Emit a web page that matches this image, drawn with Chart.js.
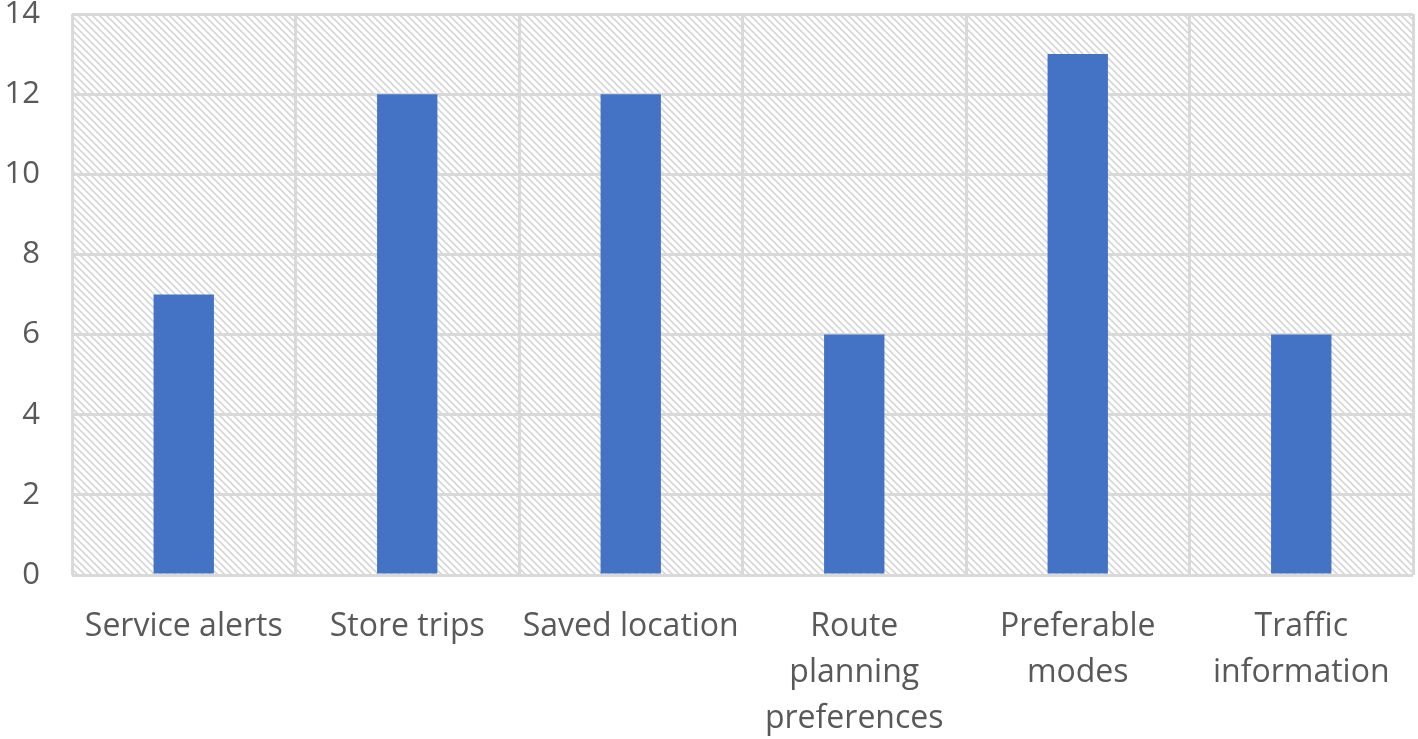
<!DOCTYPE html>
<html>
<head>
<meta charset="utf-8">
<script src="https://cdn.jsdelivr.net/npm/chart.js@4"></script>
<style>
  html, body { margin: 0; padding: 0; background: #fff; }
  #wrap { width: 1418px; height: 739px; }
</style>
</head>
<body>
<div id="wrap"><canvas id="myChart" width="1418" height="739"></canvas></div>
<script>
const categories = [
  "Service alerts",
  "Store trips",
  "Saved location",
  ["Route", "planning", "preferences"],
  ["Preferable", "modes"],
  ["Traffic", "information"]
];
const values = [7, 12, 12, 6, 13, 6];
const yMin = 0;
const yMax = 14;
const yStep = 2;

const ctx = document.getElementById("myChart");

// diagonal hatch used behind the plot area
function makeHatch() {
  const c = document.createElement("canvas");
  c.width = 7;
  c.height = 7;
  const g = c.getContext("2d");
  g.strokeStyle = "#d6d6d6";
  g.lineWidth = 1.6;
  g.beginPath();
  g.moveTo(-1, -1);
  g.lineTo(8, 8);
  g.moveTo(-8, -1);
  g.lineTo(1, 8);
  g.moveTo(6, -1);
  g.lineTo(15, 8);
  g.stroke();
  return g.createPattern(c, "repeat");
}

const hatchBg = {
  id: "hatchBg",
  beforeDraw(chart) {
    const { ctx, chartArea: a } = chart;
    ctx.save();
    ctx.fillStyle = makeHatch();
    ctx.fillRect(a.left, a.top, a.right - a.left, a.bottom - a.top);
    ctx.restore();
  }
};

const chart = new Chart(ctx, {
  type: "bar",
  data: {
    labels: categories,
    datasets: [
      {
        data: values,
        backgroundColor: "#4472c4",
        borderWidth: 0,
        categoryPercentage: 1,
        barPercentage: 0.27
      }
    ]
  },
  options: {
    responsive: false,
    animation: false,
    layout: { padding: { top: 14, right: 5, left: 0, bottom: 0 } },
    plugins: {
      legend: { display: false },
      tooltip: { enabled: false }
    },
    scales: {
      x: {
        offset: true,
        grid: { offset: true, color: "#d9d9d9", lineWidth: 3, drawTicks: false },
        border: { display: false },
        ticks: {
          color: "#595959",
          font: { family: "Open Sans", size: 32, lineHeight: 1.44 },
          padding: 29,
          maxRotation: 0,
          autoSkip: false
        },
        afterFit(s) {
          s.height = 164;
          s.paddingLeft = 0;
          s.paddingRight = 0;
        }
      },
      y: {
        min: yMin,
        max: yMax,
        grid: { color: "#d9d9d9", lineWidth: 3, drawTicks: false },
        border: { display: false },
        ticks: {
          stepSize: yStep,
          color: "#595959",
          font: { family: "Open Sans", size: 31 },
          padding: 32
        },
        afterFit(s) {
          s.width = 72;
          s.paddingTop = 0;
          s.paddingBottom = 0;
        }
      }
    }
  },
  plugins: [hatchBg]
});
</script>
</body>
</html>
